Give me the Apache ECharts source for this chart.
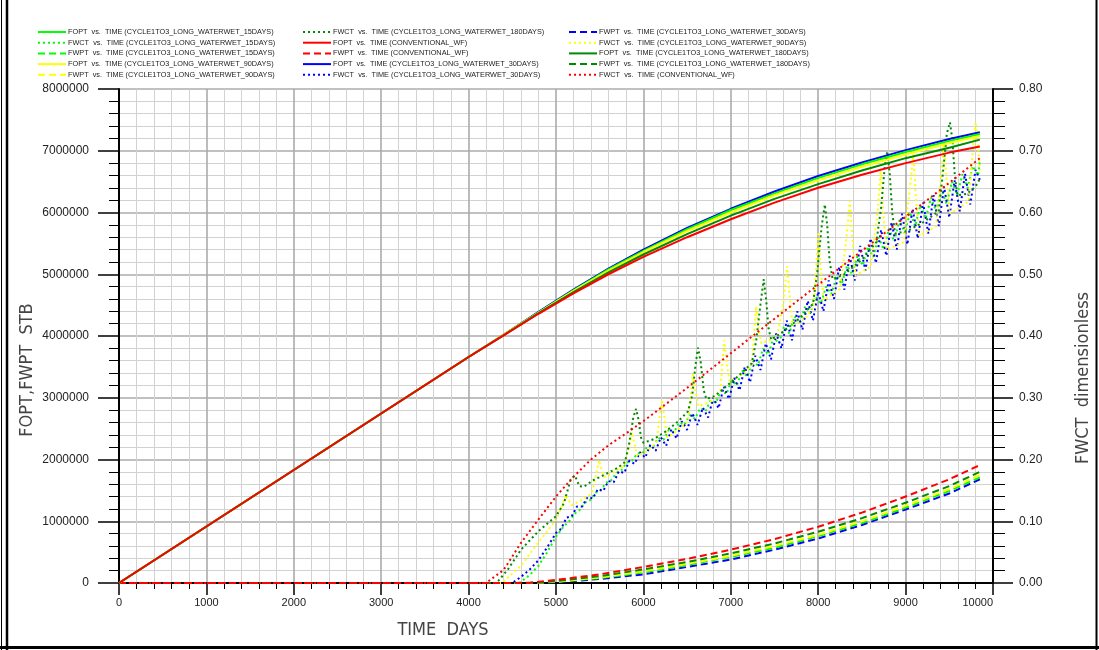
<!DOCTYPE html>
<html>
<head>
<meta charset="utf-8">
<script src="https://cdn.jsdelivr.net/npm/echarts@6/dist/echarts.min.js"></script>
<style>
html,body{margin:0;padding:0;background:#fff;}
#chart{width:1099px;height:650px;}
</style>
</head>
<body>
<div id="chart"></div>
<script>
// ---- Cumulative oil production (FOPT), STB ----
const opDays = [0, 2000, 4000, 4400, 4800, 5200, 5600, 6000, 6500, 7000, 7500, 8000, 8500, 9000, 9500, 9850];
const foptConv = [0, 1830000, 3660000, 4010000, 4360000, 4690000, 5000000, 5280000, 5600000, 5890000, 6160000, 6400000, 6610000, 6800000, 6970000, 7070000];
const foptB30  = [0, 1830000, 3660000, 4020000, 4390000, 4750000, 5090000, 5400000, 5750000, 6060000, 6340000, 6590000, 6810000, 7010000, 7190000, 7300000];
const foptG15  = [0, 1830000, 3660000, 4020000, 4380000, 4740000, 5080000, 5380000, 5730000, 6040000, 6310000, 6560000, 6780000, 6980000, 7160000, 7270000];
const foptY90  = [0, 1830000, 3660000, 4020000, 4380000, 4730000, 5060000, 5360000, 5700000, 6000000, 6280000, 6520000, 6740000, 6940000, 7120000, 7240000];
const foptD180 = [0, 1830000, 3660000, 4010000, 4370000, 4710000, 5030000, 5320000, 5650000, 5950000, 6220000, 6460000, 6680000, 6880000, 7050000, 7180000];

// ---- Cumulative water production (FWPT), STB ----
const wpDays = [0, 4500, 4700, 5000, 5500, 6000, 6500, 7000, 7500, 8000, 8500, 9000, 9500, 9850];
const fwptConv = [0, 0, 5000, 50000, 140000, 260000, 390000, 540000, 710000, 910000, 1140000, 1400000, 1680000, 1910000];
const fwptD180 = [0, 0, 2000, 30000, 110000, 220000, 340000, 480000, 640000, 830000, 1050000, 1300000, 1570000, 1800000];
const fwptY90  = [0, 0, 1000, 20000, 90000, 190000, 310000, 440000, 600000, 780000, 1000000, 1250000, 1520000, 1750000];
const fwptG15  = [0, 0, 1000, 17000, 80000, 170000, 290000, 420000, 570000, 760000, 970000, 1220000, 1490000, 1710000];
const fwptB30  = [0, 0, 0, 10000, 65000, 140000, 260000, 380000, 540000, 720000, 940000, 1190000, 1450000, 1680000];

// ---- Water cut (FWCT), fraction: [day, value] ----
const fwctConv = [[0,0],[4200,0],[4400,0.021],[4600,0.065],[4800,0.103],[5000,0.140],[5200,0.172],[5400,0.200],[5600,0.223],[5800,0.242],[6000,0.262],[6500,0.316],[7000,0.372],[7500,0.428],[8000,0.483],[8500,0.538],[9000,0.593],[9500,0.648],[9850,0.688]];

const fwctD180 = [[0,0],[4320,0],[4450,0.022],[4600,0.054],[4800,0.084],[5000,0.108],[5090,0.129],[5165,0.166],[5210,0.174],[5240,0.167],[5265,0.157],[5320,0.156],[5420,0.166],[5550,0.175],[5700,0.186],[5790,0.196],[5840,0.228],[5885,0.268],[5916,0.282],[5945,0.264],[5972,0.236],[6000,0.227],[6120,0.233],[6260,0.246],[6400,0.262],[6510,0.278],[6560,0.305],[6595,0.352],[6625,0.381],[6655,0.358],[6690,0.312],[6720,0.298],[6820,0.303],[6960,0.320],[7100,0.337],[7240,0.356],[7290,0.392],[7340,0.452],[7377,0.492],[7405,0.458],[7432,0.412],[7462,0.394],[7600,0.407],[7780,0.428],[7940,0.452],[7990,0.505],[8040,0.578],[8076,0.613],[8104,0.578],[8130,0.522],[8165,0.492],[8300,0.500],[8500,0.524],[8665,0.552],[8720,0.608],[8760,0.672],[8790,0.699],[8818,0.664],[8848,0.598],[8880,0.566],[9020,0.570],[9200,0.584],[9380,0.602],[9430,0.668],[9472,0.728],[9508,0.746],[9535,0.718],[9562,0.662],[9592,0.628],[9700,0.630],[9800,0.642],[9850,0.655]];

const fwctY90 = [[0,0],[4380,0],[4600,0.028],[4800,0.066],[5000,0.102],[5075,0.127],[5110,0.143],[5140,0.135],[5180,0.126],[5250,0.131],[5330,0.137],[5410,0.146],[5455,0.172],[5490,0.199],[5518,0.186],[5548,0.172],[5650,0.178],[5780,0.190],[5835,0.218],[5869,0.244],[5896,0.226],[5930,0.206],[6050,0.214],[6150,0.228],[6185,0.268],[6212,0.297],[6240,0.268],[6272,0.236],[6400,0.248],[6510,0.262],[6540,0.302],[6565,0.338],[6595,0.312],[6630,0.286],[6770,0.294],[6880,0.312],[6905,0.358],[6926,0.393],[6952,0.358],[6985,0.326],[7110,0.336],[7240,0.352],[7265,0.402],[7290,0.448],[7318,0.412],[7350,0.388],[7530,0.398],[7605,0.458],[7644,0.513],[7672,0.468],[7705,0.418],[7850,0.428],[7950,0.448],[7980,0.518],[8002,0.569],[8030,0.505],[8065,0.458],[8250,0.476],[8320,0.555],[8362,0.619],[8392,0.558],[8425,0.498],[8600,0.512],[8680,0.600],[8714,0.667],[8745,0.598],[8782,0.540],[8980,0.552],[9050,0.640],[9088,0.694],[9120,0.620],[9160,0.562],[9350,0.578],[9408,0.662],[9439,0.713],[9470,0.650],[9510,0.598],[9720,0.618],[9770,0.700],[9802,0.746],[9830,0.706],[9850,0.668]];

const fwctB30 = [[0,0],[4500,0],[4600,0.010],[4700,0.022],[4800,0.037],[4900,0.058],[5000,0.081],[5060,0.088],[5120,0.106],[5180,0.108],[5240,0.124],[5300,0.124],[5360,0.139],[5420,0.137],[5480,0.152],[5540,0.149],[5600,0.165],[5660,0.163],[5720,0.181],[5780,0.178],[5840,0.198],[5900,0.193],[5960,0.212],[6020,0.203],[6080,0.224],[6140,0.214],[6200,0.236],[6260,0.222],[6320,0.249],[6380,0.234],[6440,0.262],[6500,0.248],[6560,0.275],[6620,0.256],[6680,0.284],[6740,0.268],[6800,0.300],[6860,0.283],[6920,0.318],[6980,0.298],[7040,0.332],[7100,0.312],[7160,0.350],[7220,0.325],[7280,0.368],[7340,0.345],[7400,0.388],[7460,0.362],[7520,0.404],[7580,0.380],[7640,0.425],[7700,0.393],[7760,0.440],[7820,0.410],[7880,0.457],[7940,0.425],[8000,0.472],[8060,0.440],[8120,0.490],[8180,0.460],[8240,0.512],[8300,0.475],[8360,0.530],[8420,0.490],[8480,0.546],[8540,0.506],[8600,0.558],[8660,0.518],[8720,0.572],[8780,0.530],[8840,0.584],[8900,0.540],[8960,0.598],[9020,0.548],[9080,0.606],[9140,0.558],[9200,0.616],[9260,0.566],[9320,0.628],[9380,0.578],[9440,0.642],[9500,0.592],[9560,0.652],[9620,0.602],[9680,0.663],[9740,0.613],[9800,0.669],[9850,0.653]];

const fwctG15 = [[0,0],[4580,0],[4700,0.013],[4800,0.028],[4900,0.050],[5000,0.075],[5090,0.092],[5150,0.100],[5210,0.112],[5270,0.118],[5330,0.130],[5390,0.134],[5450,0.146],[5510,0.150],[5570,0.162],[5630,0.166],[5690,0.178],[5750,0.183],[5810,0.195],[5870,0.198],[5930,0.210],[5990,0.210],[6050,0.222],[6110,0.220],[6170,0.235],[6230,0.232],[6290,0.248],[6350,0.244],[6410,0.260],[6470,0.256],[6530,0.272],[6590,0.266],[6650,0.283],[6710,0.278],[6770,0.296],[6830,0.292],[6890,0.312],[6950,0.306],[7010,0.328],[7070,0.320],[7130,0.344],[7190,0.334],[7250,0.360],[7310,0.352],[7370,0.380],[7430,0.370],[7490,0.398],[7550,0.388],[7610,0.416],[7670,0.404],[7730,0.432],[7790,0.420],[7850,0.448],[7910,0.436],[7970,0.464],[8030,0.452],[8090,0.480],[8150,0.468],[8210,0.497],[8270,0.484],[8330,0.514],[8390,0.500],[8450,0.530],[8510,0.514],[8570,0.545],[8630,0.528],[8690,0.560],[8750,0.540],[8810,0.574],[8870,0.553],[8930,0.588],[8990,0.566],[9050,0.600],[9110,0.578],[9170,0.612],[9230,0.590],[9290,0.624],[9350,0.602],[9410,0.637],[9470,0.614],[9530,0.650],[9590,0.628],[9650,0.662],[9710,0.640],[9770,0.675],[9830,0.660],[9850,0.684]];

// ---- Legend text, three columns of five ----
const legendCol1 = [
  'FOPT  vs.  TIME (CYCLE1TO3_LONG_WATERWET_15DAYS)',
  'FWCT  vs.  TIME (CYCLE1TO3_LONG_WATERWET_15DAYS)',
  'FWPT  vs.  TIME (CYCLE1TO3_LONG_WATERWET_15DAYS)',
  'FOPT  vs.  TIME (CYCLE1TO3_LONG_WATERWET_90DAYS)',
  'FWPT  vs.  TIME (CYCLE1TO3_LONG_WATERWET_90DAYS)'
];
const legendCol2 = [
  'FWCT  vs.  TIME (CYCLE1TO3_LONG_WATERWET_180DAYS)',
  'FOPT  vs.  TIME (CONVENTIONAL_WF)',
  'FWPT  vs.  TIME (CONVENTIONAL_WF)',
  'FOPT  vs.  TIME (CYCLE1TO3_LONG_WATERWET_30DAYS)',
  'FWCT  vs.  TIME (CYCLE1TO3_LONG_WATERWET_30DAYS)'
];
const legendCol3 = [
  'FWPT  vs.  TIME (CYCLE1TO3_LONG_WATERWET_30DAYS)',
  'FWCT  vs.  TIME (CYCLE1TO3_LONG_WATERWET_90DAYS)',
  'FOPT  vs.  TIME (CYCLE1TO3_LONG_WATERWET_180DAYS)',
  'FWPT  vs.  TIME (CYCLE1TO3_LONG_WATERWET_180DAYS)',
  'FWCT  vs.  TIME (CONVENTIONAL_WF)'
];

const xTitle = 'TIME  DAYS';
const yLeftTitle = 'FOPT,FWPT  STB';
const yRightTitle = 'FWCT  dimensionless';

// ---- Styling ----
const COL = { g15: '#00ff00', b30: '#0000ff', y90: '#ffff00', d180: '#008a00', conv: '#ff0000' };
const SOLID = 'solid';
const DASH = [7, 4];
const DOT = [2, 3];

function pairs(days, vals) { return days.map((d, i) => [d, vals[i]]); }

function line(name, color, type, data, yIndex) {
  return {
    name: name, type: 'line', yAxisIndex: yIndex, data: data,
    symbol: 'none', showSymbol: false, animation: false, smooth: false,
    itemStyle: { color: color },
    lineStyle: { color: color, width: 2, type: type, cap: 'butt' },
    emphasis: { disabled: true }
  };
}

const series = [
  line(legendCol1[1], COL.g15, DOT, fwctG15, 1),
  line(legendCol2[4], COL.b30, DOT, fwctB30, 1),
  line(legendCol3[1], COL.y90, DOT, fwctY90, 1),
  line(legendCol2[0], COL.d180, DOT, fwctD180, 1),
  line(legendCol3[4], COL.conv, DOT, fwctConv, 1),
  line(legendCol3[0], COL.b30, DASH, pairs(wpDays, fwptB30), 0),
  line(legendCol1[2], COL.g15, DASH, pairs(wpDays, fwptG15), 0),
  line(legendCol1[4], COL.y90, DASH, pairs(wpDays, fwptY90), 0),
  line(legendCol3[3], COL.d180, DASH, pairs(wpDays, fwptD180), 0),
  line(legendCol2[2], COL.conv, DASH, pairs(wpDays, fwptConv), 0),
  line(legendCol2[3], COL.b30, SOLID, pairs(opDays, foptB30), 0),
  line(legendCol1[0], COL.g15, SOLID, pairs(opDays, foptG15), 0),
  line(legendCol1[3], COL.y90, SOLID, pairs(opDays, foptY90), 0),
  line(legendCol3[2], COL.d180, SOLID, pairs(opDays, foptD180), 0),
  line(legendCol2[1], COL.conv, SOLID, pairs(opDays, foptConv), 0)
];

const legendBase = {
  orient: 'vertical', top: 28, padding: 0,
  itemWidth: 28, itemHeight: 8, itemGap: 2.7,
  selectedMode: false,
  itemStyle: { color: 'rgba(0,0,0,0)', borderWidth: 0, opacity: 0 },
  lineStyle: { width: 2 },
  textStyle: { fontSize: 7.3, color: '#222', fontFamily: 'Liberation Sans, Arial, sans-serif', lineHeight: 8, padding: [0, 0, 0, -3] }
};

const labelFont = 'Liberation Sans, Arial, sans-serif';
const titleFont = "'Liberation Sans Narrow', 'DejaVu Sans Condensed', sans-serif";

const option = {
  backgroundColor: '#fff',
  animation: false,
  legend: [
    Object.assign({}, legendBase, { left: 37, data: legendCol1 }),
    Object.assign({}, legendBase, { left: 302, data: legendCol2 }),
    Object.assign({}, legendBase, { left: 568, data: legendCol3 })
  ],
  grid: { left: 119, right: 106, top: 89, bottom: 67, containLabel: false },
  xAxis: {
    type: 'value', min: 0, max: 10000, interval: 1000,
    axisLine: { onZero: false, lineStyle: { color: '#000', width: 2 } },
    axisTick: { length: 12, lineStyle: { color: '#000', width: 1.5 } },
    minorTick: { show: true, splitNumber: 5, length: 6, lineStyle: { color: '#000', width: 1 } },
    splitLine: { show: true, lineStyle: { color: '#ababab', width: 1.6 } },
    minorSplitLine: { show: true, lineStyle: { color: '#d2d2d2', width: 1 } },
    axisLabel: { formatter: v => String(v), fontSize: 11, color: '#222', margin: 14, fontFamily: labelFont, alignMaxLabel: 'right' }
  },
  yAxis: [
    {
      type: 'value', position: 'left', min: 0, max: 8000000, interval: 1000000,
      axisLine: { show: true, onZero: false, lineStyle: { color: '#000', width: 2 } },
      axisTick: { show: true, length: 21, lineStyle: { color: '#000', width: 1.5 } },
      minorTick: { show: true, splitNumber: 5, length: 10, lineStyle: { color: '#000', width: 1 } },
      splitLine: { show: true, lineStyle: { color: '#ababab', width: 1.6 } },
      minorSplitLine: { show: true, lineStyle: { color: '#d2d2d2', width: 1 } },
      axisLabel: { formatter: v => String(v), fontSize: 12, color: '#222', margin: 30, fontFamily: labelFont }
    },
    {
      type: 'value', position: 'right', min: 0, max: 0.8, interval: 0.1,
      axisLine: { show: true, onZero: false, lineStyle: { color: '#000', width: 2 } },
      axisTick: { show: true, length: 20, lineStyle: { color: '#000', width: 1.5 } },
      minorTick: { show: true, splitNumber: 5, length: 12, lineStyle: { color: '#000', width: 1 } },
      splitLine: { show: false },
      minorSplitLine: { show: false },
      axisLabel: { formatter: v => v.toFixed(2), fontSize: 12, color: '#222', margin: 26, fontFamily: labelFont }
    }
  ],
  series: series,
  graphic: [
    { type: 'text', x: 443, y: 630, style: { text: xTitle, fontSize: 18, fontFamily: titleFont, fill: '#444', align: 'center', verticalAlign: 'middle' } },
    { type: 'text', x: 27, y: 370, rotation: Math.PI / 2, style: { text: yLeftTitle, fontSize: 18, fontFamily: titleFont, fill: '#444', align: 'center', verticalAlign: 'middle' } },
    { type: 'text', x: 1083, y: 378, rotation: Math.PI / 2, style: { text: yRightTitle, fontSize: 18, fontFamily: titleFont, fill: '#444', align: 'center', verticalAlign: 'middle' } },
    { type: 'line', shape: { x1: 1.5, y1: 0, x2: 1.5, y2: 650 }, style: { stroke: '#000', lineWidth: 1 } },
    { type: 'line', shape: { x1: 7, y1: 0, x2: 7, y2: 650 }, style: { stroke: '#000', lineWidth: 2.5 } },
    { type: 'line', shape: { x1: 0, y1: 647.5, x2: 1099, y2: 647.5 }, style: { stroke: '#000', lineWidth: 3 } },
    { type: 'line', shape: { x1: 1096.5, y1: 0, x2: 1096.5, y2: 650 }, style: { stroke: '#000', lineWidth: 2 } }
  ]
};

const chart = echarts.init(document.getElementById('chart'), null, { renderer: 'canvas' });
chart.setOption(option);
</script>
</body>
</html>
